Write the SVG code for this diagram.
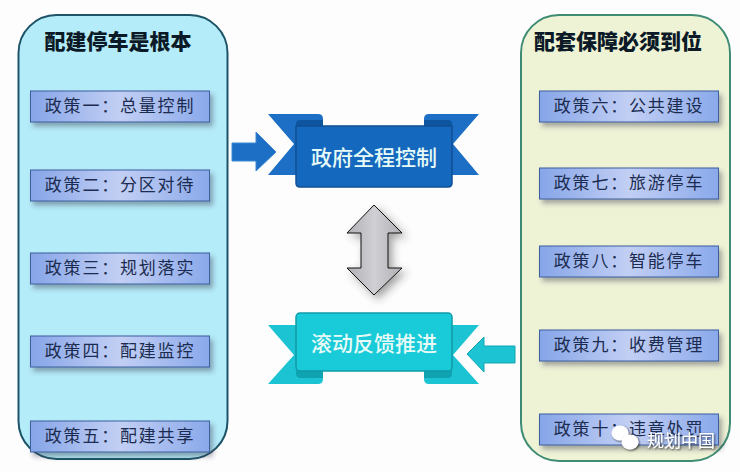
<svg xmlns="http://www.w3.org/2000/svg" width="740" height="472" viewBox="0 0 740 472">
<style>
text{font-family:"Noto Sans CJK SC","Noto Sans",sans-serif}
.title{font-size:21px;font-weight:900;fill:#0b1a26;text-anchor:middle}
.box{fill:url(#bx);stroke:#3c5f9e;stroke-width:1;filter:url(#sh)}
.pol{font-size:17px;fill:#1c2c50;text-anchor:middle;letter-spacing:1.8px}
.rt{font-size:21px;font-weight:500;fill:#e6fbf7;text-anchor:middle}
.bt{fill:#1c6fc4}.bm{fill:#1468bd;stroke:#0f4f93;stroke-width:1.5}.bf{fill:#0d559f}
.ct{fill:#1cc3d2}.cm{fill:#19cad8;stroke:#109aa8;stroke-width:1.5}.cf{fill:#0fa2b0}
</style>
<defs>
<linearGradient id="bx" x1="0" y1="0" x2="1" y2="0"><stop offset="0" stop-color="#86a5e8"/><stop offset=".5" stop-color="#c2cff4"/><stop offset="1" stop-color="#8aa9ea"/></linearGradient>
<linearGradient id="gr" x1="0" y1="0" x2="1" y2="0"><stop offset="0" stop-color="#b0b0b4"/><stop offset=".5" stop-color="#d0d0d4"/><stop offset="1" stop-color="#b0b0b4"/></linearGradient>
<filter id="sh" x="-10%" y="-30%" width="125%" height="170%"><feDropShadow dx="3" dy="4" stdDeviation="2.5" flood-color="#334" flood-opacity=".4"/></filter>
<filter id="sg" x="-30%" y="-20%" width="170%" height="140%"><feDropShadow dx="4" dy="4" stdDeviation="4" flood-color="#333" flood-opacity=".45"/></filter>
<filter id="ws" x="-20%" y="-30%" width="140%" height="160%"><feDropShadow dx="1" dy="1" stdDeviation="1" flood-color="#000" flood-opacity=".7"/></filter>
</defs>
<rect width="740" height="472" fill="#fdfdfe"/>

<g id="panel-left">
<rect x="18.500" y="15" width="209" height="444" rx="38" fill="#b5ecfa" stroke="#1d5468" stroke-width="2"/>
<text class="title" x="118" y="49">配建停车是根本</text>
</g>
<g id="panel-right">
<rect x="521" y="15" width="209" height="446" rx="38" fill="#eff3d6" stroke="#3f8c74" stroke-width="2"/>
<text class="title" x="618" y="49">配套保障必须到位</text>
</g>

<g id="p1"><rect class="box" x="30.500" y="91" width="179" height="31"/><text class="pol" x="120" y="112">政策一：总量控制</text></g>
<g id="p2"><rect class="box" x="30.500" y="170" width="179" height="31"/><text class="pol" x="120" y="191">政策二：分区对待</text></g>
<g id="p3"><rect class="box" x="30.500" y="253" width="179" height="31"/><text class="pol" x="120" y="274">政策三：规划落实</text></g>
<g id="p4"><rect class="box" x="30.500" y="336" width="179" height="31"/><text class="pol" x="120" y="357">政策四：配建监控</text></g>
<g id="p5"><rect class="box" x="30.500" y="421" width="179" height="31"/><text class="pol" x="120" y="442">政策五：配建共享</text></g>
<g id="p6"><rect class="box" x="539.500" y="91" width="179" height="31"/><text class="pol" x="629" y="112">政策六：公共建设</text></g>
<g id="p7"><rect class="box" x="539.500" y="168" width="179" height="31"/><text class="pol" x="629" y="189">政策七：旅游停车</text></g>
<g id="p8"><rect class="box" x="539.500" y="246" width="179" height="31"/><text class="pol" x="629" y="267">政策八：智能停车</text></g>
<g id="p9"><rect class="box" x="539.500" y="330" width="179" height="31"/><text class="pol" x="629" y="351">政策九：收费管理</text></g>
<g id="p10"><rect class="box" x="539.500" y="414" width="179" height="31"/><text class="pol" x="629" y="435">政策十：违章处罚</text></g>

<g id="ribbon-top">
<path class="bt" d="M268 114H318Q323 114 323 119V175H268L294 144Z"/>
<path class="bt" d="M479 114H429Q424 114 424 119V175H479L453 144Z"/>
<path class="bf" d="M296 126V124Q296 120 300 120H323V127H296ZM424 120H448Q452 120 452 124V127H424Z"/>
<path class="bm" d="M296 126H452V183Q452 187 448 187H300Q296 187 296 183Z"/>
<text class="rt" x="374" y="165">政府全程控制</text>
</g>
<g id="ribbon-bottom">
<path class="ct" d="M268 325H323V379Q323 384 318 384H268L294 355Z"/>
<path class="ct" d="M479 325H424V379Q424 384 429 384H479L453 355Z"/>
<path class="cf" d="M296 368H323V378H301Q296 378 296 374ZM424 368H452V374Q452 378 447 378H424Z"/>
<rect class="cm" x="296" y="313" width="156" height="58" rx="4"/>
<text class="rt" x="374" y="351">滚动反馈推进</text>
</g>

<g id="connectors">
<path d="M232 143H256V132L276 152L256 171V161H232Z" fill="#1c6fc4" stroke="#3a88d4" stroke-width="1"/>
<path d="M515 346H484V337L467 354L484 372V363H515Z" fill="#1cc3d2" stroke="#12a5b3" stroke-width="1"/>
<path d="M374 205L402 233H388V268H402L374 295L347 268H361V233H347Z" fill="url(#gr)" stroke="#111" stroke-width="1" filter="url(#sg)"/>
</g>

<g id="watermark">
<ellipse cx="620" cy="433" rx="8.500" ry="7.500" fill="#fff" filter="url(#ws)"/>
<ellipse cx="630" cy="442" rx="8.500" ry="7.500" fill="#fff" filter="url(#ws)"/>
<text x="647" y="447" font-size="17" fill="#fff" filter="url(#ws)">规划中国</text>
</g>
</svg>
